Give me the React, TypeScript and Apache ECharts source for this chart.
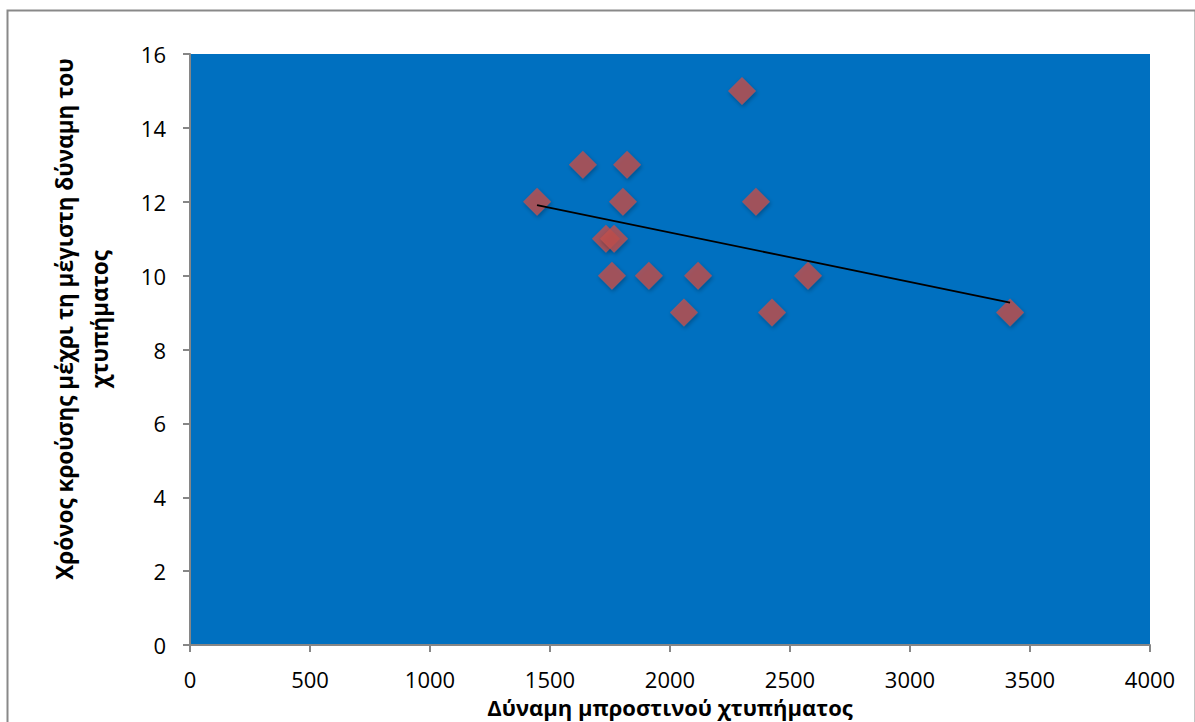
import React, { useEffect, useRef } from "react";
import * as echarts from "echarts";

const forceValues = [1446, 1637, 1821, 1804, 1733, 1767, 1758, 1912, 2117, 2058, 2300, 2358, 2425, 2575, 3417];
const timeValues = [12, 13, 13, 12, 11, 11, 10, 10, 10, 9, 15, 12, 9, 10, 9];
const xTitle = "Δύναμη μπροστινού χτυπήματος";
const yTitleLines = ["Χρόνος κρούσης μέχρι τη μέγιστη δύναμη του", "χτυπήματος"];

const FONT = "'Open Sans', 'Noto Sans', sans-serif";

function regression(xs: number[], ys: number[]) {
  const n = xs.length;
  const mx = xs.reduce((a, b) => a + b, 0) / n;
  const my = ys.reduce((a, b) => a + b, 0) / n;
  let sxy = 0, sxx = 0;
  for (let i = 0; i < n; i++) {
    sxy += (xs[i] - mx) * (ys[i] - my);
    sxx += (xs[i] - mx) ** 2;
  }
  const b = sxy / sxx;
  const a = my - b * mx;
  const x0 = Math.min(...xs), x1 = Math.max(...xs);
  return [[x0, a + b * x0], [x1, a + b * x1]];
}

export default function App() {
  const ref = useRef<HTMLDivElement>(null);
  useEffect(() => {
    if (!ref.current) return;
    const chart = echarts.init(ref.current, undefined, { renderer: "svg" });
    const points = forceValues.map((x, i) => [x, timeValues[i]]);
    const trend = regression(forceValues, timeValues);
    chart.setOption({
      animation: false,
      backgroundColor: "#ffffff",
      grid: {
        left: 190, right: 45, top: 54, bottom: 77,
        show: true, backgroundColor: "#0070C0", borderWidth: 0,
        containLabel: false, outerBoundsMode: "none",
      },
      xAxis: {
        type: "value", min: 0, max: 4000, interval: 500,
        axisLine: { show: true, lineStyle: { color: "#868686", width: 2 } },
        axisTick: { show: true, length: 7, lineStyle: { color: "#868686", width: 2 } },
        splitLine: { show: false },
        axisLabel: {
          color: "#000", fontSize: 22, fontFamily: FONT, margin: 25, lineHeight: 18,
          formatter: (v: number) => String(v),
        },
      },
      yAxis: {
        type: "value", min: 0, max: 16, interval: 2,
        axisLine: { show: true, lineStyle: { color: "#868686", width: 2 } },
        axisTick: { show: true, length: 7, lineStyle: { color: "#868686", width: 2 } },
        splitLine: { show: false },
        axisLabel: {
          color: "#000", fontSize: 22, fontFamily: FONT, margin: 24,
          formatter: (v: number) => String(v),
        },
      },
      graphic: [
        {
          type: "rect", left: 5, top: 8, z: -10, silent: true,
          shape: { width: 1188, height: 730 },
          style: { fill: "none", stroke: "#898989", lineWidth: 2 },
        },
        {
          type: "text", x: 64, y: 319, rotation: Math.PI / 2,
          style: {
            text: yTitleLines[0], fill: "#000", font: `bold 22.5px ${FONT}`,
            textAlign: "center", textVerticalAlign: "middle",
          },
        },
        {
          type: "text", x: 99, y: 319, rotation: Math.PI / 2,
          style: {
            text: yTitleLines[1], fill: "#000", font: `bold 22.5px ${FONT}`,
            textAlign: "center", textVerticalAlign: "middle",
          },
        },
        {
          type: "text", x: 670, y: 707,
          style: {
            text: xTitle, fill: "#000", font: `bold 22px ${FONT}`, lineHeight: 20,
            textAlign: "center", textVerticalAlign: "middle",
          },
        },
      ],
      series: [
        {
          type: "scatter", data: points, symbol: "diamond", symbolSize: 28,
          itemStyle: {
            color: "#C0504D", shadowBlur: 4, shadowColor: "rgba(0,0,0,0.35)",
            shadowOffsetX: 1, shadowOffsetY: 2,
          },
          z: 2,
        },
        {
          type: "line", data: trend, symbol: "none",
          lineStyle: { color: "#000", width: 1.8 }, z: 3,
        },
      ],
    });
    return () => chart.dispose();
  }, []);
  return (
    <div ref={ref} style={{ position: "absolute", left: 0, top: 0, width: 1195, height: 722 }} />
  );
}
